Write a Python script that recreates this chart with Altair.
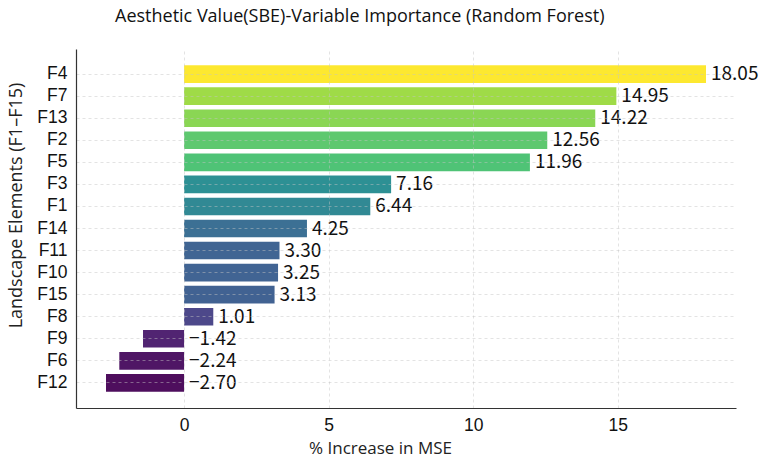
import altair as alt
import pandas as pd

# Random-forest variable importance (%IncMSE) for the aesthetic value (SBE) model
features = ["F4", "F7", "F13", "F2", "F5", "F3", "F1", "F14",
            "F11", "F10", "F15", "F8", "F9", "F6", "F12"]
inc_mse = [18.05, 14.95, 14.22, 12.56, 11.96, 7.16, 6.44, 4.25,
           3.30, 3.25, 3.13, 1.01, -1.42, -2.24, -2.70]
x_ticks = [0, 5, 10, 15]

df = pd.DataFrame({"feature": features, "value": inc_mse})

vmin, vmax = min(inc_mse), max(inc_mse)
pad = 0.05 * (vmax - vmin)

label_font = "Liberation Sans"
title_font = "Open Sans"

grid_style = dict(
    grid=True,
    gridColor="#c4c4c4",
    gridDash=[3, 3],
    gridWidth=0.8,
    gridOpacity=0.6,
    zindex=1,
)

y_enc = alt.Y(
    "feature:N",
    sort=features,
    scale=alt.Scale(paddingInner=0.2, paddingOuter=0.74),
    axis=alt.Axis(
        title="Landscape Elements (F1–F15)",
        titleFont=title_font,
        titleFontSize=18,
        titleFontWeight="normal",
        titleColor="#222222",
        titleAngle=270,
        titleAlign="center",
        titleBaseline="middle",
        titleX=-60,
        titleY=156,
        labelFont=label_font,
        labelFontSize=17.5,
        labelColor="#111111",
        labelPadding=9,
        ticks=False,
        domainColor="#333333",
        domainWidth=1.2,
        bandPosition=0.5,
        **grid_style,
    ),
)

x_scale = alt.Scale(domain=[vmin - pad, vmax + pad], nice=False, zero=False)

bars = alt.Chart(df).mark_bar(opacity=0.95).encode(
    x=alt.X(
        "value:Q",
        scale=x_scale,
        axis=alt.Axis(
            values=x_ticks,
            title="% Increase in MSE",
            titleFont=title_font,
            titleFontSize=17,
            titleFontWeight="normal",
            titleColor="#222222",
            titleX=304,
            titleY=45,
            titleBaseline="alphabetic",
            titleAlign="center",
            labelFont=label_font,
            labelFontSize=17.5,
            labelColor="#111111",
            labelPadding=8,
            ticks=False,
            domainColor="#333333",
            domainWidth=1.2,
            **grid_style,
        ),
    ),
    x2=alt.datum(0),
    y=y_enc,
    color=alt.Color(
        "value:Q",
        scale=alt.Scale(scheme="viridis", domain=[vmin, vmax]),
        legend=None,
    ),
)

# value labels sit just right of the bar end (or of zero for negative bars)
labels = alt.Chart(df).transform_calculate(
    anchor="max(datum.value, 0)"
).mark_text(
    align="left",
    baseline="middle",
    dx=5,
    font="Noto Sans CJK SC",
    fontSize=19,
    color="#111111",
).encode(
    x=alt.X("anchor:Q", scale=x_scale),
    y=alt.Y("feature:N", sort=features),
    text=alt.Text("value:Q", format=".2f"),
)

chart = (
    alt.layer(bars, labels)
    .properties(
        width=660,
        height=359,
        title=alt.TitleParams(
            "Aesthetic Value(SBE)-Variable Importance (Random Forest)",
            anchor="start",
            frame="group",
            dx=39,
            offset=9,
            baseline="alphabetic",
            font=title_font,
            fontSize=18,
            fontWeight="normal",
            color="#111111",
        ),
        padding={"left": 76, "top": 49, "right": 31, "bottom": 50},
        autosize=alt.AutoSizeParams(type="none"),
        background="white",
    )
    .configure_view(stroke=None)
)

chart.save("out.html", embed_options={"renderer": "svg", "actions": False})
